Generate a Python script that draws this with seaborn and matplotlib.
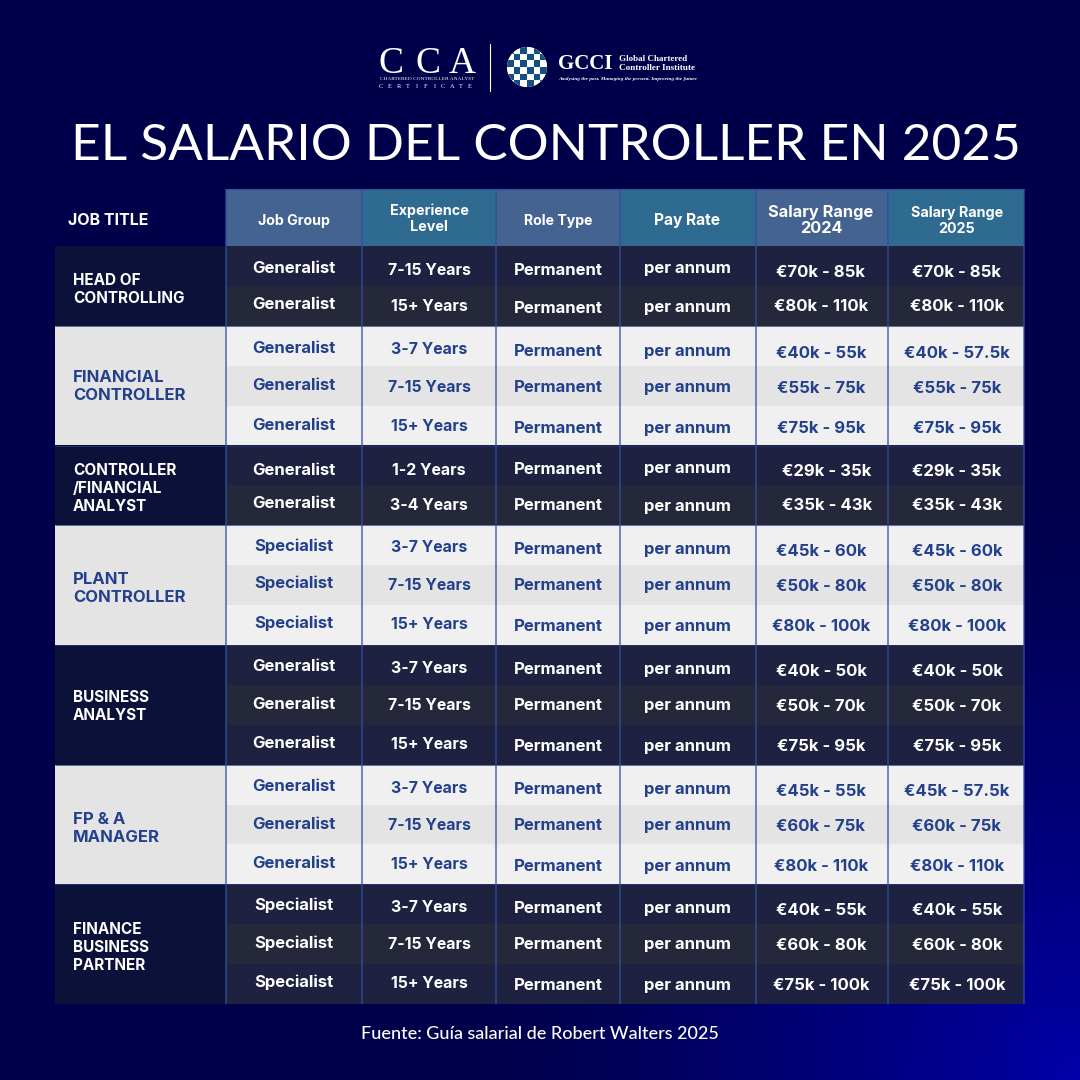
import numpy as np
import matplotlib as mpl
import matplotlib.pyplot as plt
from matplotlib.colors import ListedColormap, LinearSegmentedColormap
from matplotlib.patches import Circle
import seaborn as sns

sns.set_theme(style='white')
plt.rcParams['font.family'] = ['Inter', 'DejaVu Sans']

## values
job_titles = ['HEAD OF\nCONTROLLING', 'FINANCIAL\nCONTROLLER', 'CONTROLLER\n/FINANCIAL\nANALYST',
              'PLANT\nCONTROLLER', 'BUSINESS\nANALYST', 'FP & A\nMANAGER', 'FINANCE\nBUSINESS\nPARTNER']
title_rows = [2, 3, 2, 3, 3, 3, 3]
headers = ['Job Group', 'Experience\nLevel', 'Role Type', 'Pay Rate', 'Salary Range\n2024', 'Salary Range\n2025']
job_group = ['Generalist'] * 7 + ['Specialist'] * 3 + ['Generalist'] * 6 + ['Specialist'] * 3
experience = ['7-15 Years', '15+ Years', '3-7 Years', '7-15 Years', '15+ Years', '1-2 Years', '3-4 Years',
              '3-7 Years', '7-15 Years', '15+ Years', '3-7 Years', '7-15 Years', '15+ Years',
              '3-7 Years', '7-15 Years', '15+ Years', '3-7 Years', '7-15 Years', '15+ Years']
role_type = ['Permanent'] * 19
pay_rate = ['per annum'] * 19
salary_2024 = ['€70k - 85k', '€80k - 110k', '€40k - 55k', '€55k - 75k', '€75k - 95k', '€29k - 35k', '€35k - 43k',
               '€45k - 60k', '€50k - 80k', '€80k - 100k', '€40k - 50k', '€50k - 70k', '€75k - 95k',
               '€45k - 55k', '€60k - 75k', '€80k - 110k', '€40k - 55k', '€60k - 80k', '€75k - 100k']
salary_2025 = ['€70k - 85k', '€80k - 110k', '€40k - 57.5k', '€55k - 75k', '€75k - 95k', '€29k - 35k', '€35k - 43k',
               '€45k - 60k', '€50k - 80k', '€80k - 100k', '€40k - 50k', '€50k - 70k', '€75k - 95k',
               '€45k - 57.5k', '€60k - 75k', '€80k - 110k', '€40k - 55k', '€60k - 80k', '€75k - 100k']
table_cols = [job_group, experience, role_type, pay_rate, salary_2024, salary_2025]

# cell shade per row: 1/2 dark bands, 3/4 light bands, 0 = dark first column
row_shade = [1, 2, 3, 4, 3, 1, 2, 3, 4, 3, 1, 2, 1, 3, 4, 3, 1, 2, 1]
title_shade = [0, 0, 4, 4, 4, 0, 0, 4, 4, 4, 0, 0, 0, 4, 4, 4, 0, 0, 0]
header_shade = [0, 1, 0, 1, 0, 1]
checker = [[0, 1, 0, 1, 0, 1], [1, 0, 1, 0, 1, 0], [0, 1, 0, 1, 0, 1],
           [1, 0, 1, 0, 1, 0], [0, 1, 0, 1, 0, 1], [1, 0, 1, 0, 1, 0]]

## layout, in pixels of the 1080 picture
col_edges = [55, 226, 362, 496, 620, 756, 888, 1024]
col_x = [294, 429, 558, 687, 821, 957]
col_size = [12, 11.4, 12, 12, 12, 12]
head_top, body_top, body_bot = 189, 246, 1004
text_y = [[267, 303, 347, 384, 424, 469, 502, 545, 582, 622, 665, 703, 742, 785, 823, 862, 904, 942, 981],
          [269, 305, 348, 386, 425, 469, 504, 546, 584, 623, 667, 704, 743, 787, 824, 863, 906, 943, 982],
          [269, 307, 350, 386, 427, 468, 504, 548, 584, 625, 668, 704, 745, 788, 824, 865, 907, 943, 984],
          [267, 306, 350, 386, 427, 467, 505, 548, 584, 625, 668, 704, 745, 788, 824, 865, 907, 943, 984],
          [271, 305, 352, 387, 427, 470, 504, 550, 585, 625, 670, 705, 745, 790, 825, 865, 909, 944, 984],
          [271, 305, 352, 387, 427, 470, 504, 550, 585, 625, 670, 705, 745, 790, 825, 865, 909, 944, 984]]
title_y = [288, 384, 487, 586, 705, 826, 946]
group_lines = [326, 445.5, 525.3, 645, 765, 884.4]

DARK_TEXT = '#23408c'
cell_cmap = ListedColormap(['#0b1138', '#1e2240', '#25283b', '#f0f0f0', '#e4e4e4'])
head_cmap = ListedColormap(['#446390', '#2f6b90'])


def cell_axes(fig, x0, x1, y0, y1):
    return fig.add_axes([x0 / 1080, 1 - y1 / 1080, (x1 - x0) / 1080, (y1 - y0) / 1080])


def add_heat(fig, x0, x1, y0, y1, values, cmap, vmax):
    ax = cell_axes(fig, x0, x1, y0, y1)
    sns.heatmap(np.array(values), ax=ax, cmap=cmap, vmin=0, vmax=vmax, cbar=False,
                xticklabels=False, yticklabels=False)
    return ax


def text_lines(ax, x, y, s, step, ha='center', **kw):
    # several lines with a fixed pitch, baseline placed from the centre of the caps
    lines = s.split('\n')
    for i, line in enumerate(lines):
        ax.text(x, y + (i - (len(lines) - 1) / 2) * step + kw.get('size', 10) * 0.55, line,
                ha=ha, va='baseline', **kw)


fig = plt.figure(figsize=(10.8, 10.8), dpi=100)

# page background, dark navy going blue in the lower right corner
bg = fig.add_axes([0, 0, 1, 1])
yy, xx = np.mgrid[0:1080:270j, 0:1080:270j]
dist = np.hypot(1080 - xx, 1080 - yy)
shade = np.clip(1 - dist / 620, 0, 1) ** 1.3
bg_cmap = LinearSegmentedColormap.from_list('page', ['#00004a', '#0000a8'])
bg.imshow(shade, cmap=bg_cmap, vmin=0, vmax=1, extent=[0, 1080, 1080, 0], aspect='auto')
bg.axis('off')

# table cells
add_heat(fig, col_edges[0], col_edges[1], body_top, body_bot, [[v] for v in title_shade], cell_cmap, 4)
for c in range(6):
    add_heat(fig, col_edges[c + 1], col_edges[c + 2], head_top, body_top, [[header_shade[c]]], head_cmap, 1)
    add_heat(fig, col_edges[c + 1], col_edges[c + 2], body_top, body_bot, [[v] for v in row_shade], cell_cmap, 4)

# logo ball
ball = cell_axes(fig, 507, 547, 47, 87)
ball.set_facecolor('none')
sns.heatmap(np.array(checker), ax=ball, cmap=ListedColormap(['#154f82', '#ffffff']), vmin=0, vmax=1, cbar=False,
            xticklabels=False, yticklabels=False)
ball.add_patch(Circle((3, 3), 3, fc='white', ec='none', zorder=0))
ball.collections[0].set_clip_path(Circle((3, 3), 3, transform=ball.transData))

# everything else sits on one overlay in picture pixels
ov = fig.add_axes([0, 0, 1, 1])
ov.set_xlim(0, 1080)
ov.set_ylim(1080, 0)
ov.axis('off')
ov.patch.set_alpha(0)

for y in group_lines:
    ov.plot([col_edges[0], col_edges[-1]], [y, y], color='#2a3a78', lw=0.5)
for x in col_edges[1:]:
    ov.plot([x, x], [head_top, body_bot], color='#31509c', lw=1.1, alpha=0.85, solid_capstyle='butt')
ov.plot([col_edges[1], col_edges[-1]], [head_top, head_top], color='#31509c', lw=0.8)

# logos
for x, s in zip([391, 428, 462], 'CCA'):
    ov.text(x, 73, s, ha='center', va='baseline', color='white', size=27, family='Liberation Serif')
ov.text(427, 80, 'CHARTERED CONTROLLER ANALYST', ha='center', va='baseline', color='white', size=3.9,
        family='Liberation Serif')
for x, s in zip(np.linspace(381, 470, 11), 'CERTIFICATE'):
    ov.text(x, 88, s, ha='center', va='baseline', color='white', size=4.6, family='Liberation Serif')
ov.plot([490, 490], [44, 91], color='white', lw=0.8)
ov.text(558, 69, 'GCCI', ha='left', va='baseline', color='white', size=15, weight='bold', family='Liberation Serif')
ov.text(619, 61, 'Global Chartered', ha='left', va='baseline', color='white', size=6.5, weight='bold',
        family='Liberation Serif')
ov.text(619, 70, 'Controller Institute', ha='left', va='baseline', color='white', size=6.6, weight='bold',
        family='Liberation Serif')
ov.text(558, 80, 'Analysing the past, Managing the present, Improving the future', ha='left', va='baseline',
        color='white', size=3.8, style='italic', weight='bold', family='Liberation Serif')

# title and source
ov.text(546, 160, 'EL SALARIO DEL CONTROLLER EN 2025', ha='center', va='baseline', color='white', size=37,
        family='Lato')
ov.text(539.5, 1039, 'Fuente: Guía salarial de Robert Walters 2025', ha='center', va='baseline', color='white',
        size=13, family='Lato', weight='medium')

# table text
text_lines(ov, 68, 219, 'JOB TITLE', 16, ha='left', color='white', size=11.5, weight='bold')
header_size = [10.2, 10.3, 10.2, 11.2, 11.8, 10.3]
for c, h in enumerate(headers):
    cy = 217 if c == 1 else 219
    text_lines(ov, col_x[c], cy, h, 16, color='white', size=header_size[c], weight='bold')

row = 0
for title, n, y in zip(job_titles, title_rows, title_y):
    light = title_shade[row] == 4
    text_lines(ov, 73, y, title, 18, ha='left', color=DARK_TEXT if light else 'white',
               size=12 if light else 11, weight='bold')
    row += n

for c, values in enumerate(table_cols):
    for r, s in enumerate(values):
        col = DARK_TEXT if row_shade[r] >= 3 else 'white'
        # the two 1-2/3-4 year salaries sit a little to the right in the 2024 column
        x = col_x[c] + (6 if c == 4 and r in (5, 6) else 0)
        ov.text(x, text_y[c][r] + 6, s, ha='center', va='baseline', color=col, size=col_size[c], weight='bold')

fig.savefig('out.png', dpi=100)
